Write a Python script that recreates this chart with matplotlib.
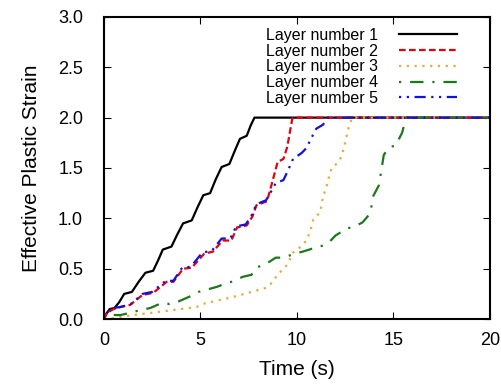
import matplotlib
matplotlib.use("Agg")
import matplotlib.pyplot as plt

plt.rcParams['font.family'] = ['Liberation Sans', 'DejaVu Sans']

# layer 1 - black solid
t1 = [0, 0.15, 0.3, 0.55, 0.8, 1.05, 1.45, 1.8, 2.15, 2.55, 2.8, 3.05, 3.5, 3.8, 4.1, 4.55,
      4.85, 5.15, 5.5, 5.8, 6.1, 6.5, 6.8, 7.05, 7.4, 7.6, 7.8, 20]
y1 = [0, 0.06, 0.10, 0.11, 0.17, 0.25, 0.27, 0.37, 0.46, 0.48, 0.58, 0.69, 0.72, 0.84, 0.95, 0.98,
      1.11, 1.23, 1.25, 1.39, 1.51, 1.54, 1.68, 1.79, 1.82, 1.92, 2.0, 2.0]

# layer 2 - red dashed
t2 = [0, 0.15, 0.5, 0.85, 1.35, 2.0, 2.55, 3.25, 3.6, 4.1, 4.55, 5.2, 5.65, 6.15, 6.6, 6.9, 7.4,
      7.7, 7.9, 8.45, 8.75, 9.0, 9.3, 9.5, 9.75, 9.8, 20]
y2 = [0, 0.06, 0.10, 0.12, 0.14, 0.24, 0.26, 0.37, 0.37, 0.50, 0.51, 0.65, 0.67, 0.78, 0.78, 0.91, 0.93,
      1.02, 1.13, 1.17, 1.38, 1.56, 1.59, 1.71, 1.98, 2.0, 2.0]

# layer 3 - orange dotted
t3 = [0, 0.5, 1.5, 3.2, 4.8, 5.1, 6.7, 8.4, 8.7, 9.0, 9.5, 9.8, 10.15, 10.5, 10.7, 10.85, 11.2,
      11.35, 11.55, 11.7, 11.8, 12.1, 12.3, 12.5, 12.65, 12.85, 20]
y3 = [0, 0.01, 0.04, 0.08, 0.12, 0.15, 0.22, 0.31, 0.36, 0.44, 0.54, 0.66, 0.71, 0.78, 0.88, 0.99, 1.06,
      1.21, 1.33, 1.44, 1.50, 1.55, 1.61, 1.75, 1.88, 2.0, 2.0]

# layer 4 - green dash-dot
t4 = [0, 0.3, 0.85, 1.3, 1.9, 2.4, 3.0, 3.4, 3.8, 4.4, 4.9, 5.85, 6.4, 6.6, 7.2, 7.65, 7.9, 8.5,
      8.9, 9.3, 9.9, 10.3, 10.8, 11.35, 11.7, 12.0, 12.6, 13.0, 13.4, 13.8, 13.95, 14.25, 14.4,
      14.5, 14.8, 15.1, 15.45, 15.65, 20]
y4 = [0, 0.04, 0.04, 0.06, 0.09, 0.11, 0.16, 0.15, 0.17, 0.22, 0.27, 0.32, 0.36, 0.37, 0.42, 0.44, 0.51, 0.56,
      0.61, 0.61, 0.65, 0.67, 0.70, 0.73, 0.77, 0.83, 0.90, 0.92, 0.96, 1.05, 1.22, 1.33, 1.51,
      1.63, 1.71, 1.72, 1.85, 2.0, 2.0]

# layer 5 - blue dash-dot-dot
t5 = [0, 0.2, 0.5, 0.85, 1.4, 2.0, 2.5, 3.2, 3.6, 4.05, 4.5, 5.1, 5.6, 6.1, 6.55, 6.85, 7.35, 7.65,
      7.9, 8.4, 8.7, 8.9, 9.3, 9.5, 9.8, 10.25, 10.5, 10.7, 11.0, 11.35, 11.6, 20]
y5 = [0, 0.07, 0.11, 0.12, 0.15, 0.25, 0.27, 0.38, 0.38, 0.51, 0.52, 0.66, 0.68, 0.80, 0.80, 0.92, 0.94, 1.03,
      1.14, 1.18, 1.28, 1.35, 1.38, 1.46, 1.59, 1.65, 1.70, 1.78, 1.89, 1.93, 2.0, 2.0]

labels = ["Layer number 1", "Layer number 2", "Layer number 3", "Layer number 4", "Layer number 5"]

fig = plt.figure(figsize=(5.02, 3.84), dpi=100)
ax = fig.add_axes([0.207, 0.169, 0.769, 0.787])

lw = 1.6
ax.plot(t1, y1, color='black', lw=lw, label=labels[0])
ax.plot(t2, y2, color='#e8000b', lw=lw, linestyle=(0, (3, 1.5)), label=labels[1])
ax.plot(t3, y3, color='#f0a830', lw=lw, linestyle=(0, (1, 2.5)), label=labels[2])
ax.plot(t4, y4, color='#1a7a1a', lw=lw, linestyle=(0, (1, 4, 6, 4)), label=labels[3])
ax.plot(t5, y5, color='#1010e0', lw=lw, linestyle=(0, (1, 2.5, 1, 2.5, 5, 2.5)), label=labels[4])

ax.set_xlim(0, 20)
ax.set_ylim(0, 3)
ax.set_xticks([0, 5, 10, 15, 20])
ax.set_yticks([0, 0.5, 1, 1.5, 2, 2.5, 3])
ax.set_yticklabels(['0.0', '0.5', '1.0', '1.5', '2.0', '2.5', '3.0'])
ax.tick_params(direction='in', top=True, right=True, length=5, width=0.8, labelsize=13)
ax.tick_params(axis='y', pad=15)
ax.tick_params(axis='x', pad=9)
for s in ax.spines.values():
    s.set_linewidth(1.5)

ax.set_xlabel('Time (s)', fontsize=15, labelpad=8)
ax.set_ylabel('Effective Plastic Strain', fontsize=15, labelpad=12)

ax.legend(loc='upper right', bbox_to_anchor=(0.93, 0.985), frameon=False, markerfirst=False,
          fontsize=11.5, handlelength=3.6, labelspacing=0.05, borderaxespad=0.0,
          handletextpad=1.3)

fig.savefig('out.png', dpi=100)
